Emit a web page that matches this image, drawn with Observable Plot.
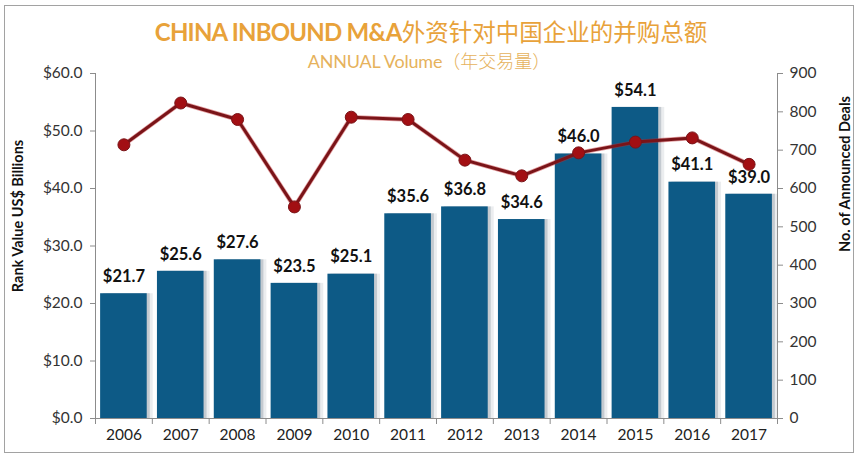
<!DOCTYPE html>
<html>
<head>
<meta charset="utf-8">
<script src="https://cdn.jsdelivr.net/npm/d3@7"></script>
<script src="https://cdn.jsdelivr.net/npm/@observablehq/plot@0.6"></script>
<style>
  html, body { margin: 0; padding: 0; background: #ffffff; }
  #wrap { position: relative; width: 862px; height: 462px; overflow: hidden; background: #fff; }
  #frame { position: absolute; left: 4px; top: 5px; width: 850px; height: 448px; border: 1.5px solid #a2a2a2; box-sizing: border-box; pointer-events: none; }
  #title { position: absolute; left: 0; width: 862px; top: 16px; text-align: center; color: #e8a23a; font-size: 24px; line-height: 30px; white-space: nowrap; }
  #title .en { font-family: Lato, "Open Sans", sans-serif; font-weight: 700; letter-spacing: -0.8px; }
  #title .zh { font-family: "Noto Sans CJK SC", sans-serif; font-weight: 400; font-size: 23.5px; }
  #subtitle { position: absolute; left: 0; width: 858px; top: 48px; text-align: center; color: #e6b25c; font-size: 18px; line-height: 24px; white-space: nowrap; }
  #subtitle .en { font-family: Lato, "Open Sans", sans-serif; font-weight: 400; letter-spacing: -0.2px; }
  #subtitle .zh { font-family: "Noto Sans CJK SC", sans-serif; font-weight: 300; }
  #chart { position: absolute; left: 0; top: 0; }
</style>
</head>
<body>
<div id="wrap">
  <div id="chart"></div>
  <div id="title"><span class="en">CHINA INBOUND M&amp;A</span><span class="zh">外资针对中国企业的并购总额</span></div>
  <div id="subtitle"><span class="en">ANNUAL Volume</span><span class="zh">（年交易量）</span></div>
  <div id="frame"></div>
</div>
<script>
// ---- data ----
const years = [2006, 2007, 2008, 2009, 2010, 2011, 2012, 2013, 2014, 2015, 2016, 2017];
const valueBn = [21.7, 25.6, 27.6, 23.5, 25.1, 35.6, 36.8, 34.6, 46.0, 54.1, 41.1, 39.0];
const deals = [714, 823, 780, 552, 786, 780, 674, 633, 693, 721, 732, 663];
const leftTicks = [0, 10, 20, 30, 40, 50, 60];
const rightTicks = [0, 100, 200, 300, 400, 500, 600, 700, 800, 900];

const leftMax = 60, rightMax = 900;
const ratio = leftMax / rightMax;
const half = 0.41; // half bar width in band units

const data = years.map((year, i) => ({year, value: valueBn[i], deals: deals[i]}));
const bounds = d3.range(years.length + 1).map(i => years[0] - 0.5 + i);

const font = "Lato, 'Open Sans', sans-serif";

const chart = Plot.plot({
  width: 862,
  height: 462,
  marginLeft: 95,
  marginRight: 85,
  marginTop: 73,
  marginBottom: 44,
  style: {fontFamily: font, background: "transparent", overflow: "visible"},
  x: {domain: [years[0] - 0.5, years[years.length - 1] + 0.5]},
  y: {domain: [0, leftMax]},
  marks: [
    // bar shadows
    Plot.rectY(data, {x1: d => d.year - half, x2: d => d.year + half, y: "value", fill: "#9aa4ae", fillOpacity: 0.2, dx: 6}),
    Plot.rectY(data, {x1: d => d.year - half, x2: d => d.year + half, y: "value", fill: "#8a96a3", fillOpacity: 0.4, dx: 3}),
    // bars
    Plot.rectY(data, {x1: d => d.year - half, x2: d => d.year + half, y: "value", fill: "#0d5a86"}),
    // axis lines
    Plot.ruleX([years[0] - 0.5, years[years.length - 1] + 0.5], {stroke: "#8c8c8c", strokeWidth: 1}),
    Plot.ruleY([0], {stroke: "#8c8c8c", strokeWidth: 1}),
    // deals line
    Plot.line(data, {x: "year", y: d => d.deals * ratio, stroke: "#c0282c", strokeWidth: 4.5, strokeOpacity: 0.45}),
    Plot.line(data, {x: "year", y: d => d.deals * ratio, stroke: "#7a1418", strokeWidth: 3}),
    Plot.dot(data, {x: "year", y: d => d.deals * ratio, r: 6, fill: "#a20f13", stroke: "#7a1418", strokeWidth: 1}),
    // value labels
    Plot.text(data, {x: "year", y: "value", text: d => "$" + d.value.toFixed(1), dy: -17, fontSize: 16.5, fontWeight: "bold", fill: "#111"}),
    // left axis
    Plot.axisY({anchor: "left", ticks: leftTicks, tickFormat: d => "$" + d.toFixed(1), tickSize: 5, tickPadding: 8, fontSize: 15.5, color: "#333", stroke: "#8c8c8c", label: null}),
    // right axis
    Plot.axisY({anchor: "right", ticks: rightTicks.map(v => v * ratio), tickFormat: v => String(Math.round(v / ratio)), tickSize: 5, tickPadding: 7, fontSize: 15.5, color: "#333", stroke: "#8c8c8c", label: null}),
    // x axis: boundary ticks and labels
    Plot.axisX({ticks: bounds, tickFormat: () => "", tickSize: 6, stroke: "#8c8c8c", label: null}),
    Plot.axisX({ticks: years, tickFormat: d => String(d), tickSize: 0, tickPadding: 10, fontSize: 15.5, color: "#222", label: null}),
    // axis titles
    Plot.text(["Rank Value US$ Billions"], {frameAnchor: "left", textAnchor: "middle", dx: -77, dy: -30, rotate: -90, fontSize: 14.5, fontWeight: "bold", fill: "#111"}),
    Plot.text(["No. of Announced Deals"], {frameAnchor: "right", textAnchor: "middle", dx: 68, dy: -72, rotate: -90, fontSize: 14.5, fontWeight: "bold", fill: "#111"})
  ]
});
document.getElementById("chart").appendChild(chart);
</script>
</body>
</html>
